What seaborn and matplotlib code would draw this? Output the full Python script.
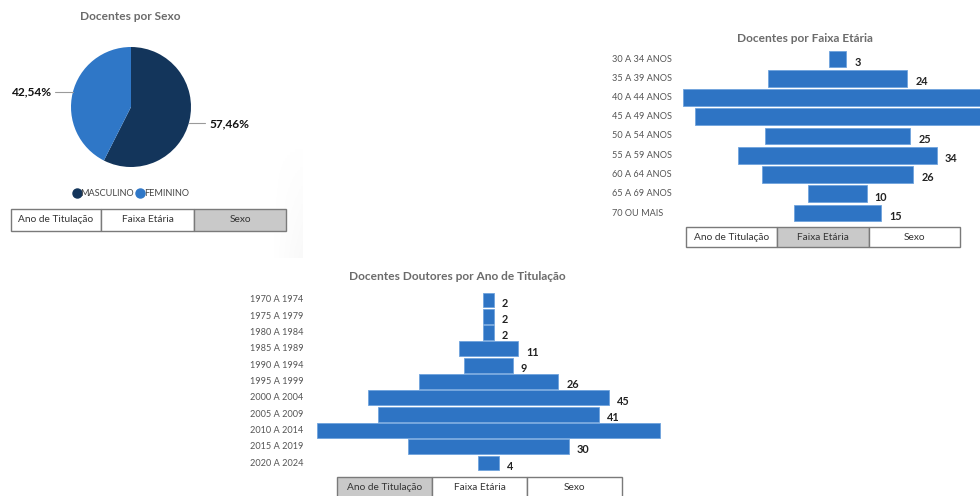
import matplotlib
matplotlib.use("Agg")
import matplotlib.pyplot as plt
import seaborn as sns
import numpy as np
import pandas as pd
from matplotlib.patches import Rectangle
from matplotlib.lines import Line2D

# ---- data ----
sexo_labels = ["MASCULINO", "FEMININO"]
sexo_pct = [57.46, 42.54]

faixa_labels = ["30 A 34 ANOS", "35 A 39 ANOS", "40 A 44 ANOS", "45 A 49 ANOS",
                "50 A 54 ANOS", "55 A 59 ANOS", "60 A 64 ANOS", "65 A 69 ANOS",
                "70 OU MAIS"]
faixa_values = [3, 24, 53, 49, 25, 34, 26, 10, 15]

ano_labels = ["1970 A 1974", "1975 A 1979", "1980 A 1984", "1985 A 1989",
              "1990 A 1994", "1995 A 1999", "2000 A 2004", "2005 A 2009",
              "2010 A 2014", "2015 A 2019", "2020 A 2024"]
ano_values = [2, 2, 2, 11, 9, 26, 45, 41, 64, 30, 4]

button_labels = ["Ano de Titulação", "Faixa Etária", "Sexo"]

# ---- style ----
W, H = 980, 496
BLUE = "#2E74C4"
NAVY = "#13355B"
FEM = "#2F77C7"
TITLE_C = "#6B6B6B"
CAT_C = "#555555"

sns.set_theme(style="white")
plt.rcParams["font.family"] = ["Lato", "DejaVu Sans"]

fig = plt.figure(figsize=(W / 100, H / 100), dpi=100)
fig.patch.set_facecolor("white")


def px_axes(x0, y0, x1, y1):
    return fig.add_axes([x0 / W, 1 - y1 / H, (x1 - x0) / W, (y1 - y0) / H])


def fx(x):
    return x / W


def fy(y):
    return 1 - y / H


def title(text, cx, cy):
    fig.text(fx(cx), fy(cy), text, ha="center", va="center",
             fontsize=8.6, fontweight="bold", color=TITLE_C)


def buttons(edges, y0, y1, selected, text_y=None):
    for i, lab in enumerate(button_labels):
        xa, xb = edges[i], edges[i + 1]
        face = "#C9C9C9" if i == selected else "white"
        fig.add_artist(Rectangle((fx(xa), fy(y1)), (xb - xa) / W, (y1 - y0) / H,
                                 transform=fig.transFigure, facecolor=face,
                                 edgecolor="#7A7A7A", linewidth=1.0))
        ty = text_y if text_y is not None else (y0 + y1) / 2
        fig.text(fx((xa + xb) / 2), fy(ty), lab, ha="center", va="center",
                 fontsize=7.3, color="#333333")


def funnel(labels, values, x0, x1, center_px, ppu, row0, step, bar_frac,
           value_dy):
    n = len(labels)
    y0 = row0 - step / 2
    y1 = row0 + step * (n - 1) + step / 2
    ax = px_axes(x0, y0, x1, y1)
    df = pd.DataFrame({"cat": labels, "val": values})
    sns.barplot(data=df, x="val", y="cat", orient="h", color=BLUE,
                saturation=1, width=bar_frac, edgecolor="#6FA3DD",
                linewidth=0.6, ax=ax)
    # centre each bar on zero to form the funnel
    for p in ax.patches:
        w = p.get_width()
        p.set_x(-w / 2)
    xmin = (x0 - center_px) / ppu
    xmax = (x1 - center_px) / ppu
    ax.set_xlim(xmin, xmax)
    ax.set_ylim(n - 0.5, -0.5)
    ax.axis("off")
    for i, (lab, v) in enumerate(zip(labels, values)):
        ax.text(xmin, i, lab, ha="left", va="center", fontsize=6.6,
                color=CAT_C)
        lx = v / 2 + 8 / ppu
        if lx + 14 / ppu < xmax:
            ax.text(lx, i + value_dy, f"{v}", ha="left", va="center",
                    fontsize=7.8, fontweight="bold", color="#222222")
    return ax


# soft panel shadow beside the sex panel
sax = px_axes(272, 138, 303, 258)
grad = np.outer(np.linspace(1, 0, 40), np.linspace(0, 1, 40))
sax.imshow(grad, cmap="Greys", vmin=0, vmax=20, aspect="auto",
           extent=(0, 1, 0, 1), origin="lower")
sax.axis("off")

# ---- pie: Docentes por Sexo ----
title("Docentes por Sexo", 130, 17)
cx, cy, r = 131, 107, 60
pax = px_axes(cx - r, cy - r, cx + r, cy + r)
pax.pie(sexo_pct, colors=[NAVY, FEM], startangle=90, counterclock=False,
        radius=1, wedgeprops=dict(linewidth=0))
pax.set_xlim(-1, 1)
pax.set_ylim(-1, 1)
pax.set_aspect("equal")
pax.axis("off")
# outside labels with leader lines
pax.plot([-1.27, -0.97], [0.25, 0.25], color="#9A9A9A", lw=0.8,
         clip_on=False)
pax.text(-1.32, 0.25, f"{sexo_pct[1]:.2f}%".replace(".", ","), ha="right",
         va="center", fontsize=8.6, fontweight="bold", color="#111111")
pax.plot([0.97, 1.23], [-0.26, -0.26], color="#9A9A9A", lw=0.8,
         clip_on=False)
pax.text(1.31, -0.28, f"{sexo_pct[0]:.2f}%".replace(".", ","), ha="left",
         va="center", fontsize=8.6, fontweight="bold", color="#111111")

handles = [Line2D([], [], marker="o", linestyle="", markersize=6.5,
                  markerfacecolor=c, markeredgecolor=c)
           for c in (NAVY, FEM)]
fig.legend(handles, sexo_labels, loc="center", ncol=2,
           bbox_to_anchor=(fx(131), fy(194)), frameon=False,
           fontsize=6.6, handletextpad=0.0, columnspacing=0.3,
           handlelength=0.8, labelcolor="#444444")
buttons([11, 101, 194, 286], 209, 231, 2)

# ---- funnel: Docentes por Faixa Etária ----
title("Docentes por Faixa Etária", 805, 38)
funnel(faixa_labels, faixa_values, 612, 980, 837.5, 5.83, 59, 19.25,
       0.87, 0.18)
buttons([686, 777, 869, 960], 227, 247, 1)

# ---- funnel: Docentes Doutores por Ano de Titulação ----
title("Docentes Doutores por Ano de Titulação", 457, 277)
funnel(ano_labels, ano_values, 250, 668, 488.5, 5.37, 300, 16.3,
       0.92, 0.2)
buttons([337, 432, 527, 622], 477, 498, 0, text_y=487)

fig.savefig("out.png", dpi=100, facecolor="white")
